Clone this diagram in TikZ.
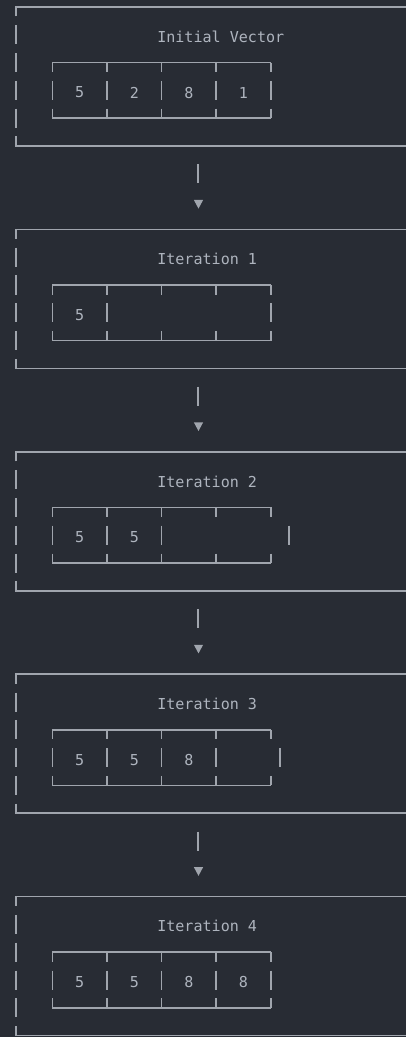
\documentclass[tikz,border=0pt]{standalone}
\usepackage{fontspec}
\newfontfamily\codefont{DejaVu Sans Mono}
\definecolor{bg}{HTML}{282C34}
\definecolor{rule}{HTML}{A0A5AD}
\definecolor{ink}{HTML}{AEB4BE}
\tikzset{
  frame/.style={draw=rule, line width=1.1pt, line cap=butt},
  txt/.style={text=ink, font=\codefont\fontsize{11.3}{13}\selectfont, inner sep=0pt},
  head/.style={fill=rule, draw=none}
}
\begin{document}
\begin{tikzpicture}[x=0.75pt, y=-0.75pt]
  % canvas
  \fill[bg] (0,0) rectangle (406,1037);
  \useasboundingbox (0,0) rectangle (406,1037);
  \clip (0,0) rectangle (406,1037);
  % grid: column c sits at x = 16 + 9.1 c, row n at y = 7 + 27.8 n
  \foreach \b/\t/\vals/\bars in {
      0/Initial Vector/{5,2,8,1}/{4,10,16,22,28},
      1/Iteration 1/{5}/{4,10,28},
      2/Iteration 2/{5,5}/{4,10,16,30},
      3/Iteration 3/{5,5,8}/{4,10,16,22,29},
      4/Iteration 4/{5,5,8,8}/{4,10,16,22,28}} {
    \pgfmathsetmacro\Yz{7+27.8*8*\b}
    \pgfmathsetmacro\Ya{\Yz+27.8}
    \pgfmathsetmacro\Yb{\Yz+27.8*2}
    \pgfmathsetmacro\Yc{\Yz+27.8*3}
    \pgfmathsetmacro\Yd{\Yz+27.8*4}
    \pgfmathsetmacro\Ye{\Yz+27.8*5}
    % outer frame (runs past the right edge)
    \draw[frame] (16,\Yz+9.5) -- (16,\Yz) -- (420,\Yz);
    \draw[frame] (16,\Ye-9.5) -- (16,\Ye) -- (420,\Ye);
    \foreach \n in {1,2,3,4}
      \draw[frame] (16,{\Yz+27.8*\n-9.5}) -- (16,{\Yz+27.8*\n+9.5});
    % title
    \node[txt, anchor=west] (t\b) at (157,\Ya+1.8) {\t};
    % array frame: top and bottom rules with ticks
    \draw[frame] (52.4,\Yb) -- (270.8,\Yb);
    \draw[frame] (52.4,\Yd) -- (270.8,\Yd);
    \foreach \c in {4,10,16,22,28} {
      \draw[frame] ({16+9.1*\c},\Yb) -- ({16+9.1*\c},\Yb+9.5);
      \draw[frame] ({16+9.1*\c},\Yd-9.5) -- ({16+9.1*\c},\Yd);
    }
    % separators in the value row
    \foreach \c in \bars
      \draw[frame] ({16+9.1*\c},\Yc-9.5) -- ({16+9.1*\c},\Yc+9.5);
    % values
    \foreach \v [count=\i] in \vals
      \node[txt] (v\b-\i) at ({16+9.1*(1+6*\i)},\Yc+2.2) {\v};
    % arrow down to the next stage
    \ifnum\b<4
      \pgfmathsetmacro\Yf{\Yz+27.8*6}
      \pgfmathsetmacro\Yg{\Yz+27.8*7}
      \coordinate (s\b) at (198,\Yf-9.5);
      \coordinate (e\b) at (198,\Yf+9.5);
      \coordinate (h\b) at (198.5,\Yg+7);
      \draw[frame] (s\b) -- (e\b);
      \fill[head] (h\b) -- ++(-4.6,-8.6) -- ++(9.2,0) -- cycle;
    \fi
  }
\end{tikzpicture}
\end{document}
